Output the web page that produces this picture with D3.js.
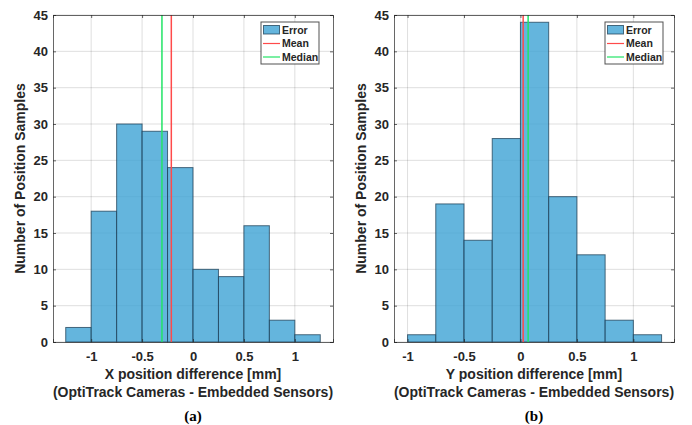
<!DOCTYPE html>
<html lang="en">
<head>
<script src="https://d3js.org/d3.v7.min.js"></script>
<style>
  body { margin: 0; background: #fff; }
  text { font-family: "Liberation Sans", Arial, sans-serif; font-weight: bold; fill: #262626; }
  .caption { font-family: "Liberation Serif", "Times New Roman", serif; fill: #000; }
</style>
</head>
<body>
<svg id="chart" width="692" height="425"></svg>
<script>
// bin edges and counts
let binEdgesX = [-1.25, -1, -0.75, -0.5, -0.25, 0, 0.25, 0.5, 0.75, 1, 1.25]
let countsX = [2, 18, 30, 29, 24, 10, 9, 16, 3, 1]
let meanX = -0.213
let medianX = -0.305

let binEdgesY = [-1, -0.75, -0.5, -0.25, 0, 0.25, 0.5, 0.75, 1, 1.25]
let countsY = [1, 19, 14, 28, 44, 20, 12, 3, 1]
let meanY = 0.024
let medianY = 0.068

let xTicks = [-1, -0.5, 0, 0.5, 1]
let yTicks = [0, 5, 10, 15, 20, 25, 30, 35, 40, 45]
let legendLabels = ["Error", "Mean", "Median"]

let barFill = "#3da2d5"
let meanColor = "#ff4a4a"
let medianColor = "#22e466"

let svg = d3.select("#chart")

function drawPanel(opts) {
  let x = d3.scaleLinear().domain(opts.xDomain).range([opts.left, opts.right])
  let y = d3.scaleLinear().domain([0, 45]).range([342, 15])
  let g = svg.append("g")

  // grid
  g.selectAll(".gx").data(xTicks).enter().append("line")
    .attr("x1", d => x(d)).attr("x2", d => x(d)).attr("y1", y(0)).attr("y2", y(45))
    .attr("stroke", "#262626").attr("stroke-opacity", 0.15)
  g.selectAll(".gy").data(yTicks).enter().append("line")
    .attr("x1", opts.left).attr("x2", opts.right).attr("y1", d => y(d)).attr("y2", d => y(d))
    .attr("stroke", "#262626").attr("stroke-opacity", 0.15)

  // bars
  let bins = opts.counts.map((c, i) => ({x0: opts.edges[i], x1: opts.edges[i + 1], c: c}))
  g.selectAll(".bar").data(bins).enter().append("rect")
    .attr("x", d => x(d.x0)).attr("width", d => x(d.x1) - x(d.x0))
    .attr("y", d => y(d.c)).attr("height", d => y(0) - y(d.c))
    .attr("fill", barFill).attr("fill-opacity", 0.8)
    .attr("stroke", "#1d3f55").attr("stroke-opacity", 0.75).attr("stroke-width", 1)

  // mean and median
  g.append("line").attr("x1", x(opts.mean)).attr("x2", x(opts.mean)).attr("y1", y(0)).attr("y2", y(45))
    .attr("stroke", meanColor).attr("stroke-width", 1.5)
  g.append("line").attr("x1", x(opts.median)).attr("x2", x(opts.median)).attr("y1", y(0)).attr("y2", y(45))
    .attr("stroke", medianColor).attr("stroke-width", 1.5)

  // axes with inward ticks
  let axB = g.append("g").attr("transform", `translate(0,${y(0)})`)
    .call(d3.axisBottom(x).tickValues(xTicks).tickSize(-3).tickPadding(10).tickFormat(d => d))
  let axT = g.append("g").attr("transform", `translate(0,${y(45)})`)
    .call(d3.axisTop(x).tickValues(xTicks).tickSize(-3).tickFormat(""))
  let axL = g.append("g").attr("transform", `translate(${opts.left},0)`)
    .call(d3.axisLeft(y).tickValues(yTicks).tickSize(-3).tickPadding(5))
  let axR = g.append("g").attr("transform", `translate(${opts.right},0)`)
    .call(d3.axisRight(y).tickValues(yTicks).tickSize(-3).tickFormat(""))
  ;[axB, axT, axL, axR].forEach(a => {
    a.select(".domain").attr("stroke", "#262626").attr("stroke-opacity", 0.7)
    a.selectAll(".tick line").attr("stroke", "#262626").attr("stroke-opacity", 0.7)
    a.selectAll("text").style("font-size", "13px").attr("fill", "#262626")
  })

  // labels
  let cx = (opts.left + opts.right) / 2
  g.append("text").attr("x", cx).attr("y", 379).attr("text-anchor", "middle")
    .style("font-size", "14px").text(opts.xLabel)
  g.append("text").attr("x", cx).attr("y", 397).attr("text-anchor", "middle")
    .style("font-size", "14px").text("(OptiTrack Cameras - Embedded Sensors)")
  g.append("text").attr("transform", `translate(${opts.left - 28},${(y(0) + y(45)) / 2}) rotate(-90)`)
    .attr("text-anchor", "middle").style("font-size", "14px").text("Number of Position Samples")
  g.append("text").attr("class", "caption").attr("x", cx).attr("y", 421).attr("text-anchor", "middle")
    .style("font-size", "15px").text(opts.caption)

  // legend
  let lg = g.append("g").attr("transform", `translate(${opts.legendX},22)`)
  lg.append("rect").attr("width", 58).attr("height", 42).attr("fill", "#fff")
    .attr("stroke", "#262626").attr("stroke-opacity", 0.8)
  lg.append("rect").attr("x", 2.5).attr("y", 3.5).attr("width", 16).attr("height", 8.5)
    .attr("fill", barFill).attr("fill-opacity", 0.8).attr("stroke", "#1d3f55").attr("stroke-opacity", 0.75)
  lg.append("line").attr("x1", 2).attr("x2", 19).attr("y1", 21.5).attr("y2", 21.5)
    .attr("stroke", meanColor).attr("stroke-width", 1.2)
  lg.append("line").attr("x1", 2).attr("x2", 19).attr("y1", 35).attr("y2", 35)
    .attr("stroke", medianColor).attr("stroke-width", 1.2)
  lg.selectAll(".lt").data(legendLabels).enter().append("text")
    .attr("x", 21).attr("y", (d, i) => 11.5 + i * 13.6).style("font-size", "10.5px").text(d => d)
}

drawPanel({edges: binEdgesX, counts: countsX, mean: meanX, median: medianX,
  xDomain: [-1.375, 1.375], left: 53, right: 333, legendX: 261,
  xLabel: "X position difference [mm]", caption: "(a)"})
drawPanel({edges: binEdgesY, counts: countsY, mean: meanY, median: medianY,
  xDomain: [-1.12, 1.36], left: 394, right: 674, legendX: 605,
  xLabel: "Y position difference [mm]", caption: "(b)"})
</script>
</body>
</html>
